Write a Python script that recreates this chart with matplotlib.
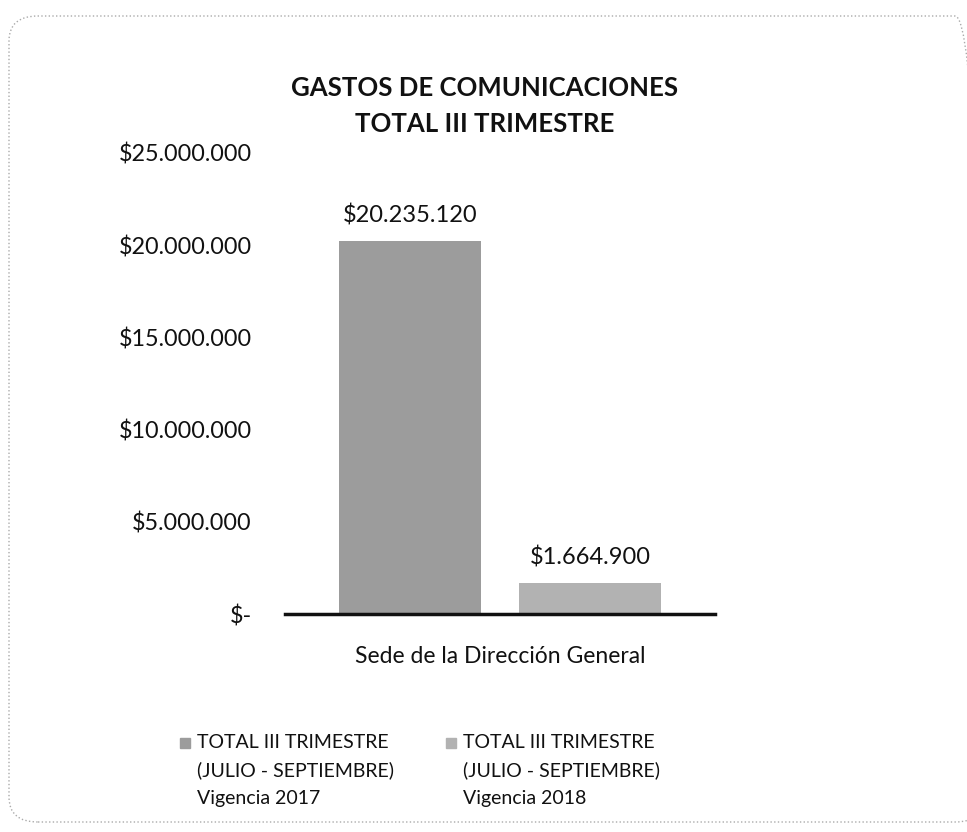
import matplotlib
matplotlib.use("Agg")
import matplotlib.pyplot as plt
from matplotlib.patches import FancyBboxPatch, Rectangle
from matplotlib.ticker import FuncFormatter

plt.rcParams['font.family'] = ['Lato', 'DejaVu Sans']

category = "Sede de la Dirección General"
series_names = ["TOTAL III TRIMESTRE\n(JULIO - SEPTIEMBRE)\nVigencia 2017",
                "TOTAL III TRIMESTRE\n(JULIO - SEPTIEMBRE)\nVigencia 2018"]
values = [20235120, 1664900]
colors = ["#9c9c9c", "#b2b2b2"]
yticks = [0, 5000000, 10000000, 15000000, 20000000, 25000000]
title = "GASTOS DE COMUNICACIONES\nTOTAL III TRIMESTRE"

def money(v):
    if v == 0:
        return "$-"
    return "$" + f"{int(round(v)):,}".replace(",", ".")

fig = plt.figure(figsize=(9.67, 8.32), dpi=100)
W, H = 967, 832
ax = fig.add_axes([285 / W, 1 - 614 / H, 430 / W, (614 - 153) / H])

offsets = [-0.21, 0.21]
for off, v, c in zip(offsets, values, colors):
    ax.bar(off, v, width=0.33, color=c, zorder=2)
    ax.text(off, v + 800000, money(v), ha='center', va='bottom', fontsize=17, color='#111111')

ax.set_xlim(-0.5, 0.5)
ax.set_ylim(0, 25000000)
ax.set_yticks(yticks)
ax.yaxis.set_major_formatter(FuncFormatter(lambda v, p: money(v)))
ax.tick_params(axis='y', length=0, pad=24, labelsize=16.8, labelcolor='#111111')
ax.set_xticks([0])
ax.set_xticklabels([category])
ax.tick_params(axis='x', length=0, pad=23, labelsize=16.5, labelcolor='#111111')
for s in ['top', 'right', 'left']:
    ax.spines[s].set_visible(False)
ax.spines['bottom'].set_linewidth(2.5)
ax.spines['bottom'].set_color('#111111')

fig.text(485 / W, 1 - 106 / H, title, ha='center', va='center', fontsize=18.5,
         fontweight='bold', linespacing=1.55, color='#111111')

# legend (manual to keep marker at first line)
leg_x = [185, 451]
for x, name, c in zip(leg_x, series_names, colors):
    fig.patches.append(Rectangle(((x - 5) / W, 1 - 748 / H), 10 / W, 10 / H,
                                 transform=fig.transFigure, color=c))
    fig.text((x + 12) / W, 1 - 734 / H, name, ha='left', va='top', fontsize=14,
             linespacing=1.72, color='#111111')

# rounded frame
frame = FancyBboxPatch((9 / W, 10 / H), 975 / W, 806 / H,
                       boxstyle="round,pad=0,rounding_size=0.03",
                       transform=fig.transFigure, fill=False,
                       edgecolor='#aaaaaa', linewidth=1.0, linestyle=':')
fig.patches.append(frame)

fig.savefig("out.png", dpi=100)
